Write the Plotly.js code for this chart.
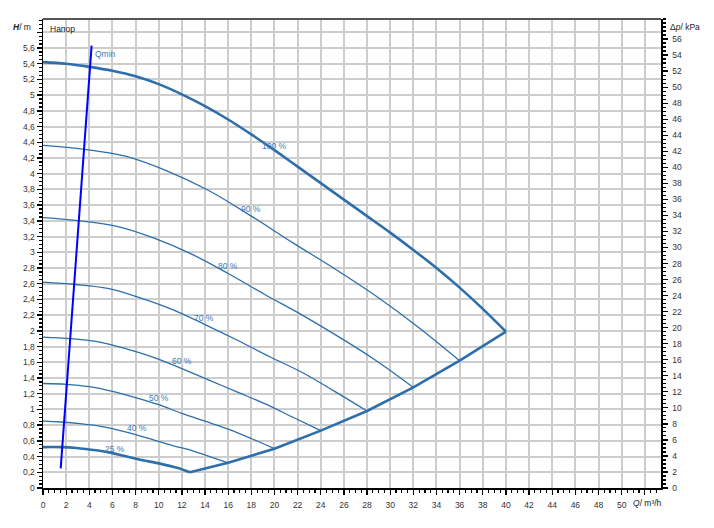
<!DOCTYPE html>
<html>
<head>
<meta charset="utf-8">
<script src="https://cdn.plot.ly/plotly-3.0.1.min.js"></script>
<style>html,body{margin:0;padding:0;background:#fff;}#chart{width:714px;height:528px;}</style>
</head>
<body>
<div id="chart"></div>
<script>
// ---- data ----
const Q100 = [0,2,4,6,8,10,12,14,16,18,20,22,24,26,28,30,32,34,36,38,40];
const H100 = [5.42,5.40,5.36,5.31,5.24,5.14,5.01,4.86,4.69,4.50,4.30,4.09,3.88,3.67,3.46,3.25,3.03,2.80,2.55,2.28,1.99];
const Q90 = [0,3.6,7.2,10.8,14.4,18,21.6,25.2,28.8,32.4,36];
const H90 = [4.36,4.31,4.22,4.03,3.78,3.46,3.12,2.79,2.44,2.05,1.62];
const Q80 = [0,3.2,6.4,9.6,12.8,16,19.2,22.4,25.6,28.8,32];
const H80 = [3.44,3.40,3.33,3.18,2.98,2.73,2.46,2.20,1.92,1.62,1.28];
const Q70 = [0,2.8,5.6,8.4,11.2,14,16.8,19.6,22.4,25.2,28];
const H70 = [2.62,2.59,2.54,2.42,2.27,2.08,1.88,1.67,1.47,1.23,0.98];
const Q60 = [0,2.4,4.8,7.2,9.6,12,14.4,16.8,19.2,21.6,24];
const H60 = [1.92,1.90,1.86,1.77,1.66,1.52,1.37,1.22,1.07,0.90,0.73];
const Q50 = [0,2,4,6,8,10,12,14,16,18,20];
const H50 = [1.33,1.32,1.29,1.23,1.15,1.06,0.95,0.85,0.75,0.63,0.50];
const Q40 = [0,1.6,3.2,4.8,6.4,8,9.6,11.2,12.8,14.4,16];
const H40 = [0.85,0.84,0.82,0.79,0.74,0.68,0.61,0.54,0.48,0.40,0.32];
const Q25 = [0,1.5,2.9,4,5.5,7,8.4,10.1,11.5,12.7];
const H25 = [0.52,0.52,0.51,0.49,0.46,0.41,0.36,0.31,0.26,0.20];
const Qsys = [12.7,16,20,24,28,32,36,40];
const Hsys = [0.20,0.32,0.50,0.73,0.98,1.28,1.62,1.99];
const Qmin = [1.53,4.2];
const Hmin = [0.25,5.63];

const curveLabels = ['Qmin','100 %','90 %','80 %','70 %','60 %','50 %','40 %','25 %'];
const labelQ = [4.32,20.0,17.97,15.98,13.9,12.0,10.0,8.1,6.26];
const labelH = [5.52,4.35,3.55,2.83,2.17,1.62,1.14,0.76,0.50];

const xTickVals = [0,2,4,6,8,10,12,14,16,18,20,22,24,26,28,30,32,34,36,38,40,42,44,46,48,50,52];
const xTickText = ['0','2','4','6','8','10','12','14','16','18','20','22','24','26','28','30','32','34','36','38','40','42','44','46','48','50',''];
const yTickVals = [0,0.2,0.4,0.6,0.8,1,1.2,1.4,1.6,1.8,2,2.2,2.4,2.6,2.8,3,3.2,3.4,3.6,3.8,4,4.2,4.4,4.6,4.8,5,5.2,5.4,5.6,5.8];
const yTickText = ['0','0,2','0,4','0,6','0,8','1','1,2','1,4','1,6','1,8','2','2,2','2,4','2,6','2,8','3','3,2','3,4','3,6','3,8','4','4,2','4,4','4,6','4,8','5','5,2','5,4','5,6',''];
const y2TickVals = [0,2,4,6,8,10,12,14,16,18,20,22,24,26,28,30,32,34,36,38,40,42,44,46,48,50,52,54,56];

// ---- styling ----
const C = '#2d6fab';
const LC = '#3b7bb8';
const F = 'Liberation Sans, Arial, sans-serif';
const thin = () => ({color: C, width: 1.3, shape: 'spline', smoothing: 1});
const thick = () => ({color: C, width: 2.6, shape: 'spline', smoothing: 1});

const traces = [
  {x: Q90, y: H90, line: thin()},
  {x: Q80, y: H80, line: thin()},
  {x: Q70, y: H70, line: thin()},
  {x: Q60, y: H60, line: thin()},
  {x: Q50, y: H50, line: thin()},
  {x: Q40, y: H40, line: thin()},
  {x: Q100, y: H100, line: thick()},
  {x: Q25, y: H25, line: thick()},
  {x: Qsys, y: Hsys, line: {color: C, width: 2.6}},
  {x: Qmin, y: Hmin, line: {color: '#0000ff', width: 2}},
  {x: [0, 53.4], y: [0, 58.5], yaxis: 'y2', line: {width: 0}, hoverinfo: 'skip'}
].map(t => Object.assign({type: 'scatter', mode: 'lines', showlegend: false, hoverinfo: 'skip'}, t));

const annotations = curveLabels.map((t, i) => ({
  x: labelQ[i], y: labelH[i], xref: 'x', yref: 'y', text: t, showarrow: false,
  xanchor: i === 0 ? 'left' : 'center', yanchor: 'middle',
  font: {family: F, size: 8.5, color: LC}
}));
annotations.push(
  {xref: 'paper', yref: 'paper', x: -0.0165, y: 0.983, xanchor: 'right', yanchor: 'middle', showarrow: false,
   text: '<b><i>H</i></b>/ m', font: {family: F, size: 8.5, color: '#222'}},
  {xref: 'paper', yref: 'paper', x: 1.011, y: 0.983, xanchor: 'left', yanchor: 'middle', showarrow: false,
   text: 'Δ<i>p</i>/ kPa', font: {family: F, size: 8.5, color: '#222'}},
  {xref: 'paper', yref: 'paper', x: 0.952, y: -0.0326, xanchor: 'left', yanchor: 'middle', showarrow: false,
   text: '<i>Q</i>/ m³/h', font: {family: F, size: 8.5, color: '#222'}},
  {xref: 'paper', yref: 'paper', x: 0.0085, y: 0.978, xanchor: 'left', yanchor: 'middle', showarrow: false,
   text: 'Напор', font: {family: F, size: 8.5, color: '#222'}}
);

const tickFont = {family: F, size: 8.5, color: '#333'};
const layout = {
  width: 714, height: 528,
  margin: {l: 43, r: 53, t: 19, b: 40, pad: 0},
  paper_bgcolor: '#fff', plot_bgcolor: '#fff',
  separators: ',.',
  showlegend: false,
  xaxis: {
    range: [0, 53.4], tickmode: 'array', tickvals: xTickVals, ticktext: xTickText,
    showgrid: true, gridcolor: '#cdcdcd', gridwidth: 2, zeroline: false,
    showline: true, linecolor: '#000', linewidth: 1.5,
    ticks: 'outside', ticklen: 5, tickwidth: 1.3, tickcolor: '#000', ticklabelstandoff: 3,
    minor: {dtick: 0.5, tick0: 0, ticks: 'outside', ticklen: 3, tickwidth: 1.2, tickcolor: '#000', showgrid: false},
    tickfont: tickFont, fixedrange: true
  },
  yaxis: {
    range: [0, 5.969], tickmode: 'array', tickvals: yTickVals, ticktext: yTickText,
    showgrid: true, gridcolor: '#cdcdcd', gridwidth: 2, zeroline: false,
    showline: true, linecolor: '#000', linewidth: 1.5,
    ticks: 'outside', ticklen: 5, tickwidth: 1.3, tickcolor: '#000',
    minor: {dtick: 0.05, tick0: 0, ticks: 'outside', ticklen: 3, tickwidth: 1.2, tickcolor: '#000', showgrid: false},
    tickfont: tickFont, fixedrange: true
  },
  yaxis2: {
    overlaying: 'y', side: 'right', range: [0, 58.5], tickmode: 'array', tickvals: y2TickVals,
    showgrid: false, zeroline: false, showline: true, linecolor: '#000', linewidth: 1.5,
    ticks: 'outside', ticklen: 5, tickwidth: 1.3, tickcolor: '#000', ticklabelstandoff: 3,
    minor: {dtick: 0.5, tick0: 0, ticks: 'outside', ticklen: 3, tickwidth: 1.2, tickcolor: '#000', showgrid: false},
    tickfont: tickFont, fixedrange: true
  },
  shapes: [
    {type: 'line', xref: 'paper', yref: 'paper', x0: 0, x1: 1, y0: 1, y1: 1, line: {color: '#555', width: 2}}
  ],
  annotations: annotations
};

Plotly.newPlot('chart', traces, layout, {staticPlot: true, displayModeBar: false});
</script>
</body>
</html>
